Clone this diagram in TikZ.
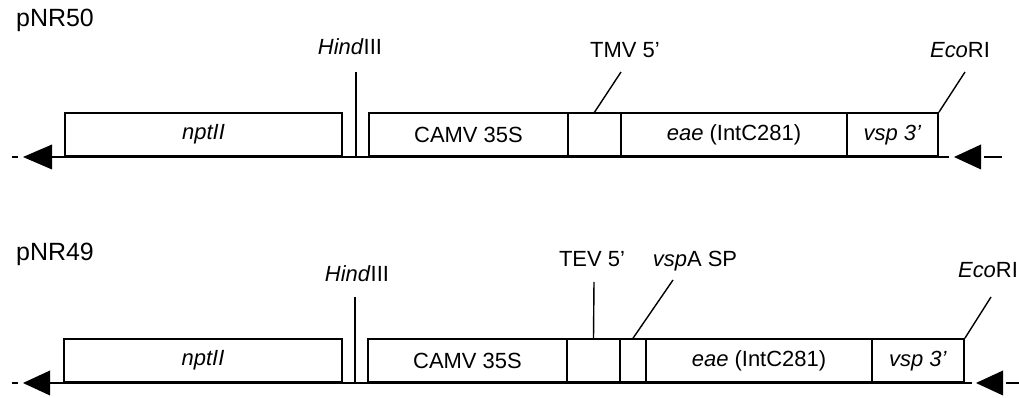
\documentclass[tikz,border=0pt]{standalone}
\usepackage{fontspec}
\setmainfont{Liberation Sans}
\begin{document}
\begin{tikzpicture}
[x=0.02cm,y=-0.02cm,%
  font=\fontsize{12.5}{15}\selectfont,
  segDecorate/.style={shape=rectangle,draw,line width=1pt,inner sep=0pt,
    anchor=south,minimum height=0.86cm},
  siteLine/.style={line width=0.8pt},
  backbone/.style={line width=1.1pt},
  constructName/.style={anchor=base west,font=\fontsize{14.2}{17}\selectfont}]
\useasboundingbox (0,0) rectangle (1019,398);
%% construct names
\node (pNR50) at (10,27) [constructName] {pNR50};
\node (pNR49) at (10,261) [constructName] {pNR49};
%% backbones with end arrows
\foreach \row/\yb/\xl/\xr/\tip in {50/157/52/949/954, 49/383/50/972/976}
{
  \coordinate (left\row) at (\xl,\yb);
  \coordinate (right\row) at (\xr,\yb);
  \draw[backbone] (left\row) -- (right\row);
  \fill (23,\yb) -- (\xl,\yb-12.5) -- (\xl,\yb+12.5) -- cycle;
  \fill (\tip,\yb) -- (\tip+27,\yb-12.5) -- (\tip+27,\yb+12.5) -- cycle;
  \draw[backbone] (12,\yb) -- (18,\yb);
  \draw[backbone] (\tip+30,\yb) -- (\tip+48,\yb);
}
%% segments
\foreach \segname/\xl/\xr/\yb/\segtext in {
  npt50/65/342/157/\textit{nptII}, camv50/369/568/157/CAMV 35S,
  tmv50/568/621/157/{}, eae50/621/847/157/{\textit{eae} (IntC281)},
  vsp50/847/938/157/\textit{vsp 3’},
  npt49/64/342/383/\textit{nptII}, camv49/368/567/383/CAMV 35S,
  tev49/567/620/383/{}, sp49/620/646/383/{},
  eae49/646/872/383/{\textit{eae} (IntC281)}, vsp49/872/964/383/\textit{vsp 3’}}
{
  \node (\segname) at ({(\xl+\xr)/2},\yb) [segDecorate,minimum width={(\xr-\xl)*0.02cm}] {\segtext};
}
%% site labels
\foreach \sitename/\x/\y/\sitetext in {
  hind50/350/55/\textit{Hind}III, tmvlbl50/625/58/TMV 5’, eco50/960/58/\textit{Eco}RI,
  hind49/357/282/\textit{Hind}III, tevlbl49/592/267/TEV 5’,
  splbl49/695/267/\textit{vsp}A SP, eco49/988/278/\textit{Eco}RI}
{
  \node (\sitename) at (\x,\y) [anchor=base] {\sitetext};
}
%% site lines
\coordinate (hindTop50) at (356,72);
\coordinate (tmvTop50) at (621,72);
\coordinate (ecoTop50) at (965,72);
\coordinate (hindTop49) at (355,297);
\coordinate (tevTop49) at (594,282);
\coordinate (spTop49) at (673,280);
\coordinate (ecoTop49) at (991,297);
\draw[siteLine] (hindTop50) -- (hindTop50 |- left50);
\draw[siteLine] (tmv50.north) -- (tmvTop50);
\draw[siteLine] (vsp50.north east) -- (ecoTop50);
\draw[siteLine] (hindTop49) -- (hindTop49 |- left49);
\draw[siteLine] (tev49.north) -- (tevTop49);
\draw[siteLine] (sp49.north) -- (spTop49);
\draw[siteLine] (vsp49.north east) -- (ecoTop49);
\end{tikzpicture}
\end{document}
